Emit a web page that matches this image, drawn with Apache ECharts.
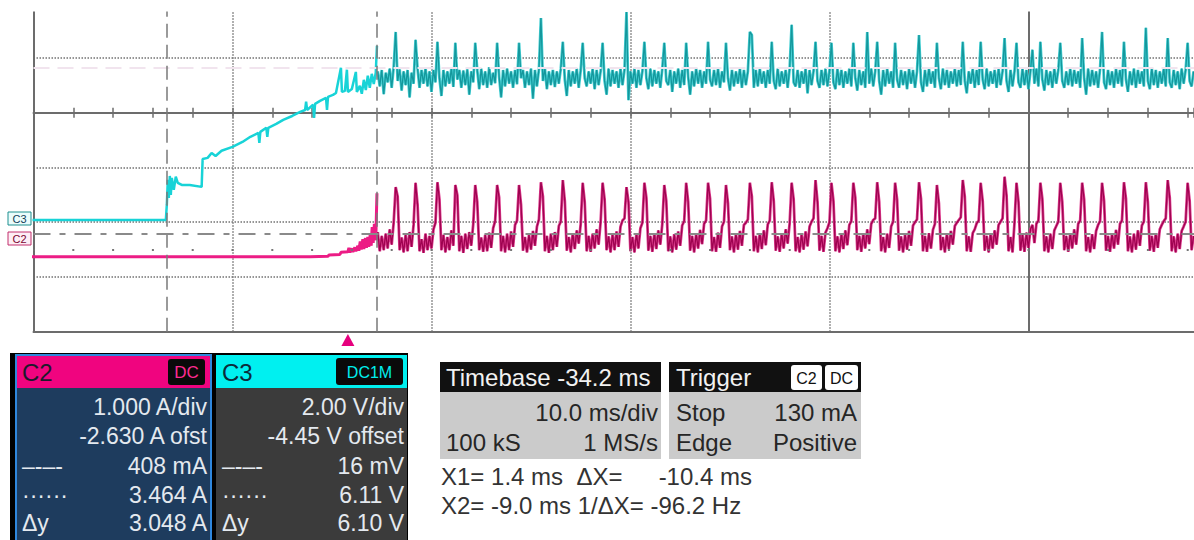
<!DOCTYPE html>
<html><head><meta charset="utf-8">
<script src="https://cdn.jsdelivr.net/npm/echarts@6/dist/echarts.min.js"></script>
<style>html,body{margin:0;padding:0;background:#fff}#c{width:1194px;height:540px}</style>
</head><body><div id="c"></div>
<script>
// ---- scope settings (from the readouts) ----
const timebaseMs = -34.2;          // screen centre relative to trigger
const msPerDiv = 10;
const xMinMs = -50, xMaxMs = 8.32; // visible part of the screen, relative to centre
const c2AmpsPerDiv = 1.0, c2OffsetA = -2.63;
const c3VoltsPerDiv = 2.0, c3ZeroDiv = -1.97;   // 0 V marker position
const cursorX1Ms = 1.45, cursorX2Ms = -9.1;
const c2CursorA = [0.408, 3.464];
const triggerLevelA = 0.13;

// ---- C3 (cyan, volts): start-up ramp, time in ms from trigger ----
const c3RampT = [-15.85,-9.45,-9.15,-9.10,-9.05,-9.00,-8.95,-8.90,-8.85,-8.75,-8.65,-8.55,-8.35,-7.95,-7.35,-7.30,-7.05,-6.85,-6.65,-6.35,-5.80,-5.30,-4.90,-4.50,-4.45,-4.40,-4.10,-4.05,-4.00,-3.60,-3.25,-2.80,-2.40,-2.15,-2.10,-2.05,-1.75,-1.70,-1.65,-1.40,-1.10,-1.05,-1.00,-0.75,-0.60,-0.35,-0.30,-0.15,-0.05,0.00,0.20,0.40,0.45,0.60,0.70,0.80,0.90,1.00,1.10,1.20,1.30,1.40,1.46];
const c3RampV = [0.02,0.02,0.02,0.57,1.49,0.83,1.63,0.94,1.56,1.12,1.60,1.38,1.30,1.30,1.23,2.25,2.29,2.47,2.36,2.55,2.69,2.87,3.06,3.20,2.84,3.24,3.39,3.06,3.39,3.53,3.68,3.82,3.97,4.04,4.34,4.04,4.23,3.75,4.26,4.37,4.48,4.04,4.52,4.59,4.66,5.58,4.70,4.74,5.51,4.70,4.81,5.43,4.70,4.92,4.63,5.14,4.77,5.29,4.85,5.36,4.99,5.40,6.38];

// ---- C2 (magenta, amps): start-up ----
const c2RampT = [-16.83,-16.80,-1.90,-1.00,-0.95,-0.40,-0.35,0.00,0.05,0.10,0.20,0.25,0.35,0.40,0.50,0.55,0.62,0.67,0.75,0.80,0.88,0.93,1.00,1.05,1.12,1.17,1.22,1.27,1.33,1.40,1.46];
const c2RampA = [0.12,0.00,0.00,0.01,0.03,0.04,0.08,0.09,0.16,0.08,0.15,0.09,0.17,0.10,0.20,0.11,0.28,0.13,0.32,0.14,0.34,0.16,0.36,0.18,0.40,0.20,0.54,0.25,0.60,0.30,1.16];

// ---- steady state, one value per 0.1 ms sample from 1.5 ms ----
const bandStartMs = 1.5, bandStepMs = 0.1;
const c3BandV = [
5.45,4.90,5.50,4.62,5.40,5.05,5.55,4.85,5.60,6.89,
5.10,5.52,4.75,5.45,4.95,5.50,4.50,5.40,5.00,6.60,
5.55,4.85,5.50,5.00,5.58,4.90,5.45,4.70,5.50,5.05,
6.53,5.20,4.55,5.50,4.90,5.45,5.00,5.55,4.88,6.49,
5.15,5.50,4.85,5.48,4.95,5.52,4.60,5.45,5.05,6.49,
5.50,4.80,5.55,4.95,5.45,4.85,5.60,4.95,5.40,5.02,
6.49,5.25,4.50,5.50,4.90,5.55,5.00,5.45,4.85,5.50,
4.98,6.49,5.20,5.50,4.85,5.45,4.95,5.55,4.45,5.50,
4.90,5.52,7.40,5.10,5.55,4.80,5.45,4.95,5.50,4.88,
5.45,5.00,5.55,6.53,5.15,4.55,5.50,4.90,5.45,5.00,
5.55,4.85,5.50,6.49,5.20,4.90,5.45,5.00,5.55,4.80,
5.50,4.95,5.45,6.49,5.10,4.60,5.55,4.90,5.50,5.00,
5.45,4.85,5.55,4.95,5.50,7.62,4.40,5.45,5.00,5.55,
4.85,5.50,4.95,5.45,6.53,5.20,4.80,5.55,4.90,5.50,
5.00,5.45,4.85,5.55,6.49,5.10,4.95,5.50,4.70,5.45,
5.00,5.55,4.85,5.50,4.95,6.49,5.25,4.60,5.45,4.90,
5.55,5.00,5.50,4.85,5.45,5.00,6.53,5.15,4.90,5.50,
4.95,5.55,4.85,5.45,5.05,6.49,5.20,4.75,5.50,4.90,
5.45,5.00,5.55,4.85,5.50,4.95,5.45,6.89,6.78,4.85,
5.50,4.90,5.55,5.00,5.45,4.85,5.50,5.00,6.53,5.10,
4.80,5.55,4.90,5.45,5.00,5.50,4.85,5.55,7.15,5.05,
4.90,5.50,4.85,5.45,5.00,5.55,4.65,5.50,4.95,5.45,
6.53,5.10,4.85,5.50,4.95,5.55,4.90,5.45,6.49,5.05,
4.80,5.55,4.95,5.50,4.85,5.45,5.00,5.55,4.90,6.49,
5.20,4.75,5.50,4.95,5.45,4.85,6.89,5.00,5.55,4.90,
5.45,6.53,5.10,4.60,5.50,4.90,5.55,5.00,5.45,4.85,
6.49,5.15,4.85,5.50,4.95,5.45,4.80,5.55,5.00,5.50,
4.85,5.45,6.78,5.05,4.70,5.50,4.90,5.55,5.00,5.45,
4.85,6.49,5.20,4.80,5.55,4.95,5.50,4.85,5.45,5.00,
5.55,4.90,5.50,4.95,6.53,5.10,4.65,5.45,5.00,5.55,
4.85,5.50,4.95,6.53,5.15,4.80,5.55,4.90,5.45,5.00,
5.50,4.85,5.55,4.95,5.45,6.67,5.10,4.70,5.50,4.90,
5.45,6.49,5.05,4.85,5.55,4.95,5.50,4.80,5.45,6.24,
5.00,5.55,4.90,6.53,5.15,4.75,5.50,4.95,5.45,4.85,
5.55,5.00,5.50,6.49,5.10,4.85,5.45,4.95,5.55,4.90,
5.50,5.00,5.45,4.85,6.67,5.20,4.60,5.55,4.90,5.50,
4.95,5.45,4.85,5.55,6.89,5.05,4.80,5.50,4.95,5.45,
4.85,5.55,5.00,5.50,4.90,6.53,5.15,4.70,5.45,4.95,
5.55,4.85,5.50,5.00,5.45,4.90,7.04,5.10,4.80,5.55,
4.95,5.50,4.85,5.45,5.00,5.55,4.90,6.67,5.05,4.85,
5.50,4.95,5.45,4.80,5.55,5.00,5.50,6.49,5.10,4.90,5.45];
const c2BandA = [
0.45,0.10,0.38,0.12,0.42,0.15,0.50,0.22,0.62,1.27,
1.10,0.12,0.35,0.08,0.40,0.10,0.45,0.18,0.58,1.35,
0.95,0.10,0.32,0.07,0.42,0.12,0.38,0.15,0.50,0.62,
1.36,1.05,0.12,0.40,0.08,0.36,0.12,0.48,0.20,1.31,
1.12,0.10,0.38,0.07,0.42,0.14,0.45,0.20,0.60,1.31,
1.00,0.12,0.35,0.09,0.40,0.10,0.44,0.16,0.52,0.65,
1.31,1.08,0.10,0.38,0.08,0.42,0.12,0.46,0.18,0.58,
0.66,1.31,0.95,0.11,0.36,0.08,0.40,0.13,0.47,0.20,
0.55,0.68,1.36,1.10,0.10,0.38,0.07,0.42,0.12,0.45,
0.18,0.56,0.64,1.40,1.02,0.11,0.36,0.08,0.43,0.14,
0.48,0.24,0.60,1.35,1.00,0.10,0.38,0.09,0.42,0.15,
0.50,0.22,0.63,1.35,1.05,0.12,0.37,0.08,0.41,0.12,
0.46,0.18,0.55,0.66,0.70,1.27,1.00,0.10,0.36,0.08,
0.42,0.15,0.52,0.62,1.35,1.08,0.11,0.38,0.09,0.43,
0.14,0.48,0.22,0.60,1.31,1.02,0.10,0.37,0.08,0.41,
0.13,0.46,0.20,0.57,0.65,1.35,1.00,0.11,0.38,0.08,
0.42,0.15,0.49,0.23,0.60,0.66,1.35,1.06,0.10,0.36,
0.09,0.44,0.16,0.55,0.64,1.31,0.98,0.12,0.37,0.08,
0.42,0.13,0.47,0.20,0.58,0.62,0.68,1.35,1.10,0.10,
0.38,0.08,0.43,0.14,0.48,0.21,0.59,0.66,1.36,1.02,
0.11,0.37,0.09,0.42,0.15,0.50,0.24,0.61,1.35,1.05,
0.10,0.36,0.08,0.41,0.13,0.46,0.19,0.55,0.64,0.70,
1.40,1.00,0.11,0.38,0.09,0.44,0.52,0.63,1.35,1.02,
0.10,0.37,0.08,0.42,0.14,0.48,0.21,0.58,0.65,1.35,
1.08,0.12,0.38,0.09,0.43,0.15,0.50,0.23,0.60,0.67,
0.70,1.36,1.00,0.10,0.36,0.08,0.42,0.16,0.55,0.64,
1.35,1.04,0.11,0.37,0.08,0.41,0.13,0.47,0.20,0.57,
0.63,0.68,1.36,1.06,0.10,0.38,0.09,0.43,0.15,0.49,
0.60,1.31,0.98,0.12,0.36,0.08,0.42,0.14,0.47,0.22,
0.56,0.62,0.67,0.72,1.40,1.10,0.10,0.37,0.09,0.43,
0.50,0.61,0.66,1.35,1.02,0.11,0.38,0.08,0.42,0.15,
0.48,0.22,0.58,0.64,0.70,1.46,1.12,0.10,0.36,0.08,
0.62,1.35,1.00,0.11,0.40,0.09,0.44,0.16,0.50,0.58,
0.25,0.60,0.66,1.35,1.05,0.10,0.37,0.08,0.42,0.14,
0.48,0.56,0.64,1.35,1.00,0.12,0.38,0.09,0.43,0.15,
0.50,0.22,0.60,0.66,1.35,1.04,0.10,0.36,0.08,0.41,
0.14,0.47,0.58,0.65,1.35,1.02,0.11,0.38,0.09,0.42,
0.15,0.49,0.22,0.60,0.66,1.36,1.06,0.10,0.37,0.08,
0.42,0.13,0.48,0.20,0.57,0.64,1.36,1.00,0.11,0.38,
0.09,0.43,0.16,0.50,0.58,0.65,0.70,1.40,1.08,0.10,
0.37,0.08,0.42,0.14,0.47,0.55,0.64,1.35,1.02,0.12,0.38];

// ---- conversions to screen divisions / screen time ----
const sx = t => t + timebaseMs;
const c2Div = a => (a + c2OffsetA) / c2AmpsPerDiv;
const c3Div = v => v / c3VoltsPerDiv + c3ZeroDiv;
const c3Ramp = c3RampT.map((t, i) => [sx(t), c3Div(c3RampV[i])]);
const c2Ramp = c2RampT.map((t, i) => [sx(t), c2Div(c2RampA[i])]);
const c3Band = c3BandV.map((v, i) => [sx(bandStartMs + i * bandStepMs), c3Div(v)]);
const c2Band = c2BandA.map((a, i) => [sx(bandStartMs + i * bandStepMs), c2Div(a)]);

const gridGray = '#6c6c6c';
const solid = { color: gridGray, width: 2 };
const dotted = { color: '#737373', width: 1.5, type: [1.5, 1.5] };
const FONT = '"Liberation Sans", Arial, sans-serif';
const noLbl = { show: false };
const gridTop = 3.2, gridBottom = 208.3, yMin = -4, yMax = 2;
const centreY = gridTop + (540 - gridTop - gridBottom) * yMax / (yMax - yMin);

function xAx(extra) {
  return Object.assign({ type: 'value', min: xMinMs, max: xMaxMs, interval: msPerDiv, axisLabel: noLbl,
    axisTick: { show: false }, splitLine: { show: false } }, extra);
}
function trace(name, data, color, width, z, extra) {
  return Object.assign({ name: name, type: 'line', data: data, showSymbol: false, symbol: 'none', z: z,
    silent: true, lineStyle: { color: color, width: width } }, extra || {});
}

const chart = echarts.init(document.getElementById('c'), null, { renderer: 'svg' });
chart.setOption({
  animation: false,
  backgroundColor: '#ffffff',
  grid: [
    { left: 33.5, right: 0, top: gridTop, bottom: gridBottom, show: false },
    // thin strip around the centre line, carrying the 0.2-division ticks
    { left: 33.5, right: 0, top: centreY - 5, height: 10, show: false }
  ],
  xAxis: [
    xAx({ position: 'bottom', axisLine: { show: true, onZero: true, lineStyle: solid },
      splitLine: { show: true, showMaxLine: false, lineStyle: dotted } }),
    xAx({ position: 'bottom', axisLine: { show: true, onZero: false, lineStyle: solid } }),
    xAx({ gridIndex: 1, position: 'bottom', interval: msPerDiv / 5, axisLine: { show: false, onZero: false },
      axisTick: { show: true, inside: true, length: 10, lineStyle: { color: gridGray, width: 1.5 } } })
  ],
  yAxis: [
    { type: 'value', min: yMin, max: yMax, interval: 1, position: 'left',
      axisLine: { show: true, onZero: true, lineStyle: solid },
      axisTick: { show: false }, splitLine: { show: true, lineStyle: dotted }, axisLabel: noLbl },
    { type: 'value', min: yMin, max: yMax, interval: 1, position: 'left',
      axisLine: { show: true, onZero: false, lineStyle: solid },
      axisTick: { show: false }, splitLine: { show: false }, axisLabel: noLbl },
    { gridIndex: 1, type: 'value', min: 0, max: 1, show: false }
  ],
  series: [
    { name: 'under', type: 'line', data: [], z: 1, silent: true,
      markLine: { symbol: 'none', silent: true, animation: false, label: noLbl,
        data: [
          { yAxis: c2Div(triggerLevelA), lineStyle: { color: '#767676', width: 2, type: [2, 37.8], dashOffset: 1 } },
          { yAxis: c2Div(c2CursorA[1]), lineStyle: { color: '#f1e4ee', width: 2, type: [16, 8] } }
        ] } },
    trace('C3 ramp', c3Ramp, '#18d3d7', 2.5, 2),
    trace('C3 glow', c3Band, '#46cfd3', 2.8, 2),
    trace('C3', c3Band, '#14979c', 1.3, 2),
    trace('C2 ramp', c2Ramp, '#ec1c85', 3, 3, { clip: false }),
    trace('C2 glow', c2Band, '#de3d8e', 2.8, 3),
    trace('C2', c2Band, '#9e0350', 1.3, 3),
    { name: 'over', type: 'line', data: [], z: 5, silent: true,
      markLine: { symbol: 'none', silent: true, animation: false, label: noLbl,
        data: [
          { xAxis: sx(cursorX1Ms), lineStyle: { color: '#7a7a7a', width: 1.5, type: [14, 7] } },
          { xAxis: sx(cursorX2Ms), lineStyle: { color: '#7a7a7a', width: 1.5, type: [14, 7] } },
          { yAxis: c2Div(c2CursorA[0]), lineStyle: { color: '#8a8a8a', width: 2, type: [17, 9, 6, 9] } }
        ] } }
  ]
});

// ---- readout panels and markers ----
const trigX = chart.convertToPixel({ xAxisIndex: 0 }, sx(0));
function T(x, y, s, size, fill, align) {
  return { type: 'text', x: x, y: y, z: 120,
    style: { text: s, fill: fill, font: size + 'px ' + FONT, textAlign: align || 'left', textVerticalAlign: 'middle' } };
}
function R(x, y, w, h, fill, r, stroke, lw) {
  return { type: 'rect', z: 110, shape: { x: x, y: y, width: w, height: h, r: r || 0 },
    style: { fill: fill, stroke: stroke || null, lineWidth: lw || 0 } };
}
const bodyTxt = '#e4e9ef', darkTxt = '#262626';
const g = [
  R(0, 0, 1194, 11.5, '#ffffff'),
  // ground tags
  R(8, 212, 23, 13, '#eafcfc', 0, '#1c8f8f', 1), T(19.5, 218.5, 'C3', 11, '#12405a', 'center'),
  R(8, 232, 23, 13, '#fdeef5', 0, '#c22e6c', 1), T(19.5, 238.5, 'C2', 11, '#7a0632', 'center'),
  // trigger position marker
  { type: 'polygon', z: 120, shape: { points: [[trigX, 334], [trigX - 6.5, 346], [trigX + 6.5, 346]] }, style: { fill: '#e6007e' } },
  // channel panels
  R(10, 353, 398, 187, '#000000'),
  R(16, 355, 195, 33, '#f0047f'), R(16, 388, 195, 152, '#1e3c5e'),
  { type: 'rect', z: 115, shape: { x: 16, y: 355, width: 195, height: 190 }, style: { fill: null, stroke: '#2f87dd', lineWidth: 2 } },
  R(216, 355, 191, 33, '#00f0f0'), R(216, 388, 191, 152, '#3b3b3b'),
  T(22, 372, 'C2', 24, '#1c1a2c'),
  R(168, 359, 37, 26, '#0a0a0a', 3), T(186.5, 372.5, 'DC', 17, '#ff2a92', 'center'),
  T(222, 372, 'C3', 24, '#0c2b3a'),
  R(336, 358, 67, 27, '#0a0a0a', 3), T(369.5, 372, 'DC1M', 16, '#00eeee', 'center'),
  T(207, 407, '1.000 A/div', 23, bodyTxt, 'right'),
  T(207, 436, '-2.630 A ofst', 23, bodyTxt, 'right'),
  T(22, 466, '–-–-', 23, bodyTxt), T(207, 466, '408 mA', 23, bodyTxt, 'right'),
  T(22, 495, '······', 23, bodyTxt), T(207, 495, '3.464 A', 23, bodyTxt, 'right'),
  T(22, 523, 'Δy', 23, bodyTxt), T(207, 523, '3.048 A', 23, bodyTxt, 'right'),
  T(404, 407, '2.00 V/div', 23, bodyTxt, 'right'),
  T(404, 436, '-4.45 V offset', 23, bodyTxt, 'right'),
  T(222, 466, '–-–-', 23, bodyTxt), T(404, 466, '16 mV', 23, bodyTxt, 'right'),
  T(222, 495, '······', 23, bodyTxt), T(404, 495, '6.11 V', 23, bodyTxt, 'right'),
  T(222, 523, 'Δy', 23, bodyTxt), T(404, 523, '6.10 V', 23, bodyTxt, 'right'),
  // timebase / trigger panels
  R(440, 362, 221, 30, '#111111'), R(440, 392, 221, 67, '#cbcbcb'),
  T(446, 377, 'Timebase -34.2 ms', 24, '#f2f2f2'),
  T(658, 412, '10.0 ms/div', 24, darkTxt, 'right'),
  T(446, 442, '100 kS', 24, darkTxt), T(658, 442, '1 MS/s', 24, darkTxt, 'right'),
  R(669, 362, 192, 30, '#111111'), R(669, 392, 192, 67, '#cbcbcb'),
  T(676, 377, 'Trigger', 24, '#f2f2f2'),
  R(791, 365, 31, 25, '#ffffff', 3), T(806.5, 378, 'C2', 16, '#111111', 'center'),
  R(825, 365, 33, 25, '#ffffff', 3), T(841.5, 378, 'DC', 16, '#111111', 'center'),
  T(676, 412, 'Stop', 24, darkTxt), T(857, 412, '130 mA', 24, darkTxt, 'right'),
  T(676, 442, 'Edge', 24, darkTxt), T(857, 442, 'Positive', 24, darkTxt, 'right'),
  T(441, 476, 'X1= 1.4 ms  ΔX=', 24, '#333333'), T(752, 476, '-10.4 ms', 24, '#333333', 'right'),
  T(441, 505, 'X2= -9.0 ms 1/ΔX= -96.2 Hz', 24, '#333333')
];
chart.setOption({ graphic: g });
</script>
</body></html>
